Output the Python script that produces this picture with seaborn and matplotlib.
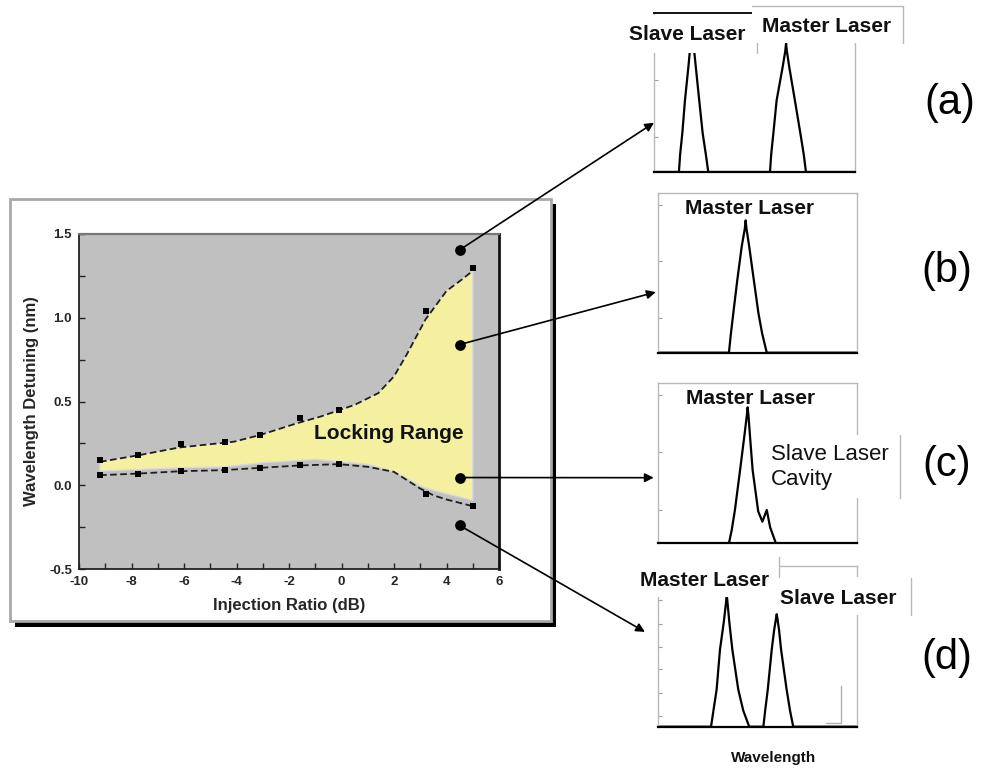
import numpy as np
import pandas as pd
import matplotlib
matplotlib.use("Agg")
import matplotlib.pyplot as plt
import seaborn as sns
from matplotlib.patches import Rectangle, ConnectionPatch
from matplotlib.lines import Line2D
from matplotlib.ticker import MultipleLocator, FormatStrFormatter

# ---------------- data ----------------
# measured locking-range boundary points
inj_pts = [-9.2, -7.75, -6.1, -4.45, -3.1, -1.6, -0.1, 3.2, 5.0]
upper_pts = [0.153, 0.18, 0.245, 0.26, 0.30, 0.40, 0.45, 1.04, 1.30]
lower_pts = [0.06, 0.07, 0.085, 0.09, 0.105, 0.118, 0.126, -0.05, -0.125]

# smooth guide curves
upper_x = [-9.2, -7.7, -6.2, -4.1, -3.1, -1.7, -0.8, 0.5, 1.4, 2.0, 2.5, 3.2, 4.0, 4.6, 5.0]
upper_y = [0.14, 0.18, 0.225, 0.26, 0.30, 0.37, 0.41, 0.48, 0.55, 0.65, 0.785, 0.99, 1.16, 1.23, 1.28]
lower_fill_x = [-9.2, -7.7, -6.0, -4.5, -3.0, -1.5, -1.0, 0.0, 1.0, 2.0, 2.5, 3.0, 3.5, 4.0, 4.5, 5.0]
lower_fill_y = [0.085, 0.095, 0.105, 0.11, 0.135, 0.15, 0.155, 0.14, 0.125, 0.08, 0.04, -0.005, -0.03, -0.05, -0.07, -0.09]
lower_dash_x = [-9.2, -7.7, -6.1, -4.5, -3.1, -1.6, -0.1, 1.0, 2.0, 2.5, 3.0, 3.5, 4.0, 4.5, 5.0]
lower_dash_y = [0.06, 0.07, 0.084, 0.09, 0.104, 0.118, 0.126, 0.11, 0.08, 0.03, -0.02, -0.06, -0.085, -0.105, -0.125]

# operating points (a)-(d)
probe_x = [4.5, 4.5, 4.5, 4.5]
probe_y = [1.405, 0.84, 0.046, -0.24]

x_ticks = [-10, -8, -6, -4, -2, 0, 2, 4, 6]
y_ticks = [-0.5, 0.0, 0.5, 1.0, 1.5]

# optical spectra (arbitrary wavelength 0-100, normalised power 0-1)
spec_a_x = [0, 12.4, 13.0, 14.1, 15.4, 17.1, 18.5, 18.9, 19.3, 20.8, 22.5, 24.2, 25.8, 27.0,
            57.7, 58.3, 59.4, 61.0, 64.0, 65.3, 65.7, 66.1, 67.3, 70.1, 72.8, 74.5, 75.6, 100]
spec_a_y = [0, 0, 0.11, 0.245, 0.45, 0.66, 0.85, 0.95, 0.85, 0.66, 0.45, 0.245, 0.11, 0,
            0, 0.11, 0.245, 0.45, 0.66, 0.76, 0.81, 0.76, 0.66, 0.45, 0.245, 0.11, 0, 0]
spec_b_x = [0, 35.8, 36.7, 38.0, 40.0, 42.2, 43.8, 44.2, 44.6, 46.0, 48.3, 50.6, 52.5, 54.8, 100]
spec_b_y = [0, 0, 0.11, 0.249, 0.456, 0.665, 0.78, 0.83, 0.78, 0.665, 0.456, 0.249, 0.12, 0, 0]
spec_c_x = [0, 35.8, 37.2, 38.8, 41.4, 43.5, 44.8, 45.2, 45.6, 46.4, 47.7, 50.5, 52.6, 54.8, 56.5, 59.4, 100]
spec_c_y = [0, 0, 0.083, 0.208, 0.458, 0.666, 0.80, 0.85, 0.80, 0.666, 0.458, 0.20, 0.135, 0.208, 0.10, 0, 0]
spec_d_x = [0, 26.8, 28.0, 29.6, 31.3, 33.2, 34.3, 34.7, 35.1, 36.0, 37.5, 40.5, 43.0, 46.0,
            53.1, 54.0, 55.3, 57.3, 58.5, 59.4, 59.8, 60.2, 61.0, 62.0, 64.8, 66.5, 68.1, 100]
spec_d_y = [0, 0, 0.10, 0.23, 0.48, 0.65, 0.77, 0.82, 0.77, 0.65, 0.48, 0.23, 0.10, 0,
            0, 0.10, 0.23, 0.48, 0.60, 0.67, 0.70, 0.67, 0.60, 0.48, 0.23, 0.10, 0, 0]

panel_tags = ["(a)", "(b)", "(c)", "(d)"]

# ---------------- style ----------------
sns.set_theme(style="ticks")
plt.rcParams['font.family'] = ['Liberation Sans', 'DejaVu Sans']
plt.rcParams['axes.unicode_minus'] = False

W, H = 981, 769
fig = plt.figure(figsize=(W / 100, H / 100), dpi=100)
fig.patch.set_facecolor('white')


def rect(x0, y0, x1, y1):
    """pixel box (top-left origin) -> figure fraction [l, b, w, h]"""
    return [x0 / W, 1 - y1 / H, (x1 - x0) / W, (y1 - y0) / H]


def fx(x):
    return x / W


def fy(y):
    return 1 - y / H


# ---------------- main frame with shadow ----------------
fig.add_artist(Rectangle((fx(15), fy(627)), (556 - 15) / W, (627 - 204) / H,
                         transform=fig.transFigure, fc='black', ec='none', zorder=-2))
fig.add_artist(Rectangle((fx(10), fy(621)), (551 - 10) / W, (621 - 199) / H,
                         transform=fig.transFigure, fc='white', ec='#a8a8a8', lw=2, zorder=-1))

# ---------------- main axes ----------------
ax = fig.add_axes(rect(79, 234, 499, 569))
ax.set_facecolor('#c0c0c0')

ax.fill(upper_x + lower_fill_x[::-1], upper_y + lower_fill_y[::-1],
        facecolor='#f4f0a0', edgecolor='#dadada', lw=1.0, zorder=1)

dash = (0, (3.7, 1.9))
sns.lineplot(x=upper_x, y=upper_y, ax=ax, color='#1e1e1e', lw=1.3, linestyle=dash, zorder=2)
sns.lineplot(x=lower_dash_x, y=lower_dash_y, ax=ax, color='#1e1e1e', lw=1.3, linestyle=dash, zorder=2)
sns.scatterplot(x=inj_pts, y=upper_pts, ax=ax, marker='s', s=16, color='black', linewidth=0, zorder=3)
sns.scatterplot(x=inj_pts, y=lower_pts, ax=ax, marker='s', s=16, color='black', linewidth=0, zorder=3)
sns.scatterplot(x=probe_x, y=probe_y, ax=ax, marker='o', s=60, color='black', linewidth=0, zorder=4)

ax.text(1.8, 0.31, 'Locking Range', fontsize=15, fontweight='bold', ha='center', va='center',
        color='#111111', zorder=5)

ax.set_xlim(-10, 6)
ax.set_ylim(-0.5, 1.5)
ax.set_xticks(x_ticks)
ax.set_yticks(y_ticks)
ax.xaxis.set_minor_locator(MultipleLocator(1))
ax.yaxis.set_minor_locator(MultipleLocator(0.25))
ax.yaxis.set_major_formatter(FormatStrFormatter('%.1f'))
ax.tick_params(which='both', direction='in', length=4, width=1.0, color='#222222',
               left=True, bottom=True, top=False, right=False, pad=5)
for lab in ax.get_xticklabels() + ax.get_yticklabels():
    lab.set_fontsize(9.5)
    lab.set_fontweight('bold')
ax.set_xlabel('Injection Ratio (dB)', fontsize=12, fontweight='bold', labelpad=7)
ax.set_ylabel('Wavelength Detuning (nm)', fontsize=12, fontweight='bold', labelpad=7)
for s in ['left', 'bottom']:
    ax.spines[s].set_color('#222222')
    ax.spines[s].set_linewidth(1.3)
ax.spines['right'].set_color('#111111')
ax.spines['right'].set_linewidth(2.0)
ax.spines['top'].set_color('#777777')
ax.spines['top'].set_linewidth(1.6)

# ---------------- spectrum panels ----------------
panel_boxes = [(654, 13, 855, 172), (657.7, 193.3, 856.7, 352.7),
               (657.7, 383.3, 856.7, 543.3), (657.7, 566, 856.7, 726.7)]
spectra = [(spec_a_x, spec_a_y), (spec_b_x, spec_b_y), (spec_c_x, spec_c_y), (spec_d_x, spec_d_y)]
left_ticks = [[0.22, 0.58], [0.217, 0.575, 0.927], [0.21, 0.57, 0.93],
              [0.069, 0.21, 0.357, 0.497, 0.64, 0.786]]
panels = []
for box, (sx, sy), lt in zip(panel_boxes, spectra, left_ticks):
    axp = fig.add_axes(rect(*box))
    axp.set_facecolor('white')
    sns.lineplot(x=sx, y=sy, ax=axp, color='black', lw=1.6, sort=False, estimator=None)
    axp.set_xlim(0, 100)
    axp.set_ylim(0, 1)
    axp.set_xticks([])
    axp.set_yticks(lt)
    axp.set_yticklabels([])
    axp.set_xlabel('')
    axp.set_ylabel('')
    axp.tick_params(axis='y', direction='in', length=3, width=0.8, color='#a0a0a0')
    for s in ['left', 'right', 'top']:
        axp.spines[s].set_color('#b8b8b8')
        axp.spines[s].set_linewidth(1.0)
    axp.spines['bottom'].set_color('black')
    axp.spines['bottom'].set_linewidth(1.6)
    panels.append(axp)

panels[0].spines['top'].set_color('#111111')
panels[0].spines['top'].set_linewidth(1.4)

# small bracket mark in (d)
panels[3].plot([0.845, 0.92, 0.92], [0.023, 0.023, 0.256], transform=panels[3].transAxes,
               color='#b0b0b0', lw=1.0)

# ---------------- label boxes ----------------
def white_box(x0, y0, x1, y1, z=5):
    fig.add_artist(Rectangle((fx(x0), fy(y1)), (x1 - x0) / W, (y1 - y0) / H,
                             transform=fig.transFigure, fc='white', ec='none', zorder=z))


def gline(xs, ys, z=6):
    fig.add_artist(Line2D([fx(v) for v in xs], [fy(v) for v in ys], transform=fig.transFigure,
                          color='#b8b8b8', lw=1.0, zorder=z))


def label(x, y, s, weight='bold', size=15, ha='center', z=7):
    fig.text(fx(x), fy(y), s, fontsize=size, fontweight=weight, ha=ha, va='center',
             color='#111111', zorder=z)


# (a)
white_box(617, 15, 757, 53, z=5)
gline([757, 757], [28, 53])
white_box(752, 6, 903, 43, z=6)
gline([752, 903, 903], [6, 6, 43], z=6.5)
label(687, 34, 'Slave Laser')
label(827, 27, 'Master Laser')
# (b)
label(750, 208, 'Master Laser')
# (c)
label(751, 398, 'Master Laser')
white_box(760, 435, 900, 498)
gline([900, 900], [435, 498])
fig.text(fx(771), fy(467), 'Slave Laser\nCavity', fontsize=16, fontweight='normal', ha='left',
         va='center', color='#111111', zorder=7, linespacing=1.2)
# (d)
white_box(640, 552, 779, 597)
label(705, 580, 'Master Laser')
white_box(780, 577, 911, 615)
gline([911, 911], [578, 615])
gline([779, 779], [557, 577])
label(838, 599, 'Slave Laser')
label(774, 758, 'Wavelength', size=11)

# panel tags
for (tx, ty), tag in zip([(950, 103), (947, 271), (947, 465), (947, 658)], panel_tags):
    fig.text(fx(tx), fy(ty), tag, fontsize=30, ha='center', va='center', color='black')

# ---------------- arrows ----------------
arrow_ends = [(0.0, 0.31), (-0.01, 0.38), (-0.02, 0.41), (-0.064, 0.59)]
for px_, py_, axp, end in zip(probe_x, probe_y, panels, arrow_ends):
    con = ConnectionPatch(xyA=(px_, py_), coordsA=ax.transData, xyB=end, coordsB=axp.transAxes,
                          arrowstyle='-|>', mutation_scale=13, lw=1.2, color='black',
                          shrinkA=3.5, shrinkB=0, zorder=8)
    fig.add_artist(con)

fig.savefig('out.png', dpi=100)
